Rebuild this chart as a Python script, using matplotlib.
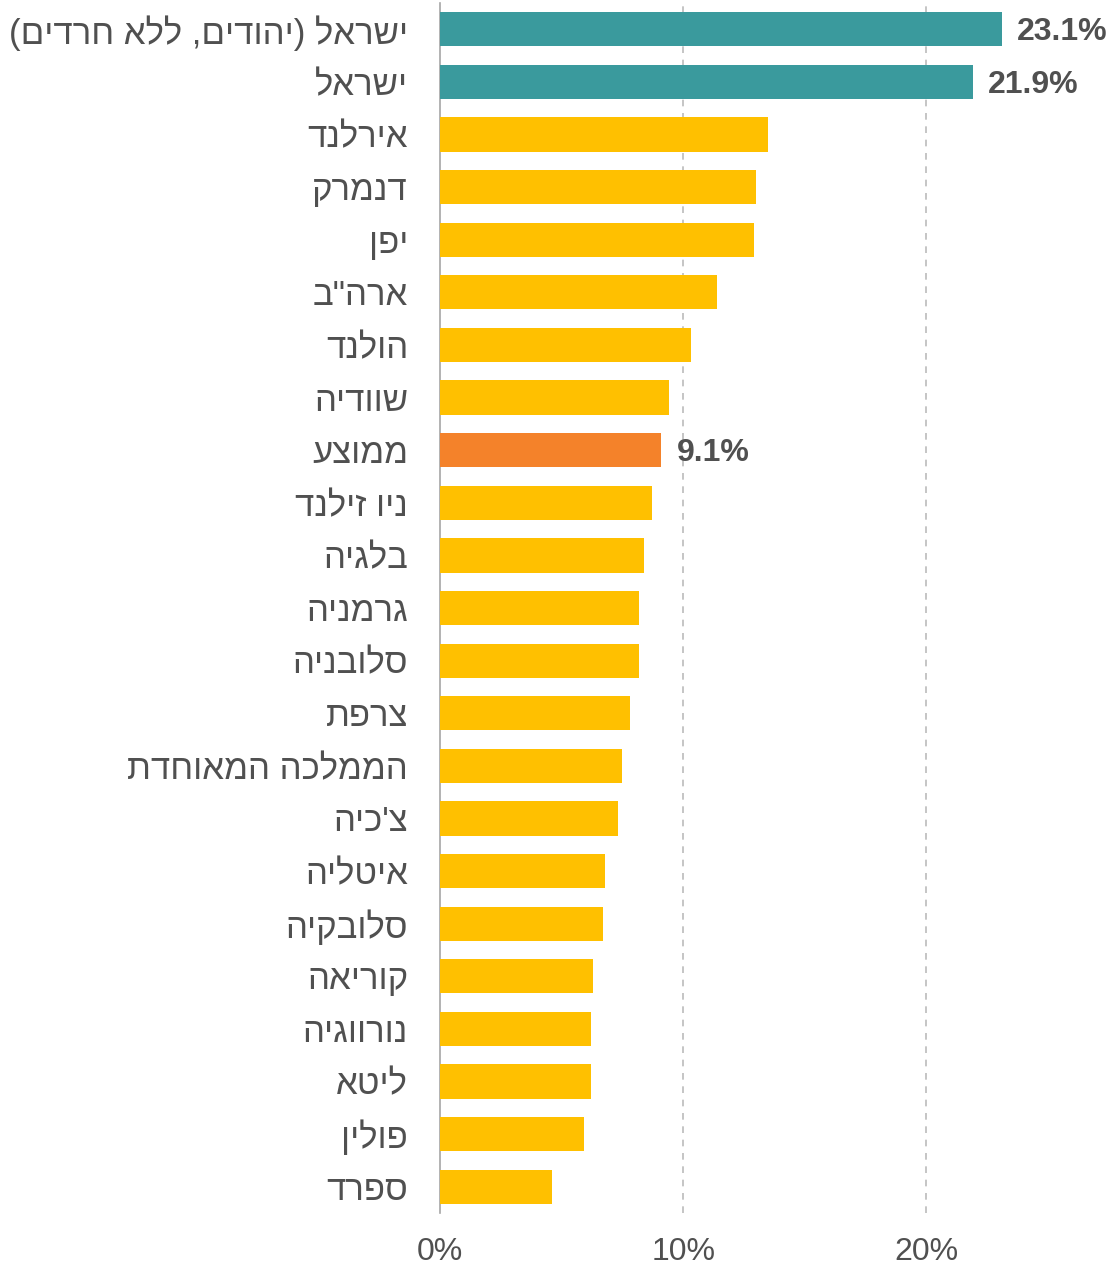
import matplotlib.pyplot as plt

plt.rcParams['font.family'] = ['Liberation Sans', 'DejaVu Sans']

# category names (logical order, top to bottom)
countries = [
    'ישראל (יהודים, ללא חרדים)', 'ישראל', 'אירלנד', 'דנמרק', 'יפן', 'ארה"ב',
    'הולנד', 'שוודיה', 'ממוצע', 'ניו זילנד', 'בלגיה', 'גרמניה', 'סלובניה',
    'צרפת', 'הממלכה המאוחדת', "צ'כיה", 'איטליה', 'סלובקיה', 'קוריאה',
    'נורווגיה', 'ליטא', 'פולין', 'ספרד',
]
values = [23.1, 21.9, 13.5, 13.0, 12.9, 11.4, 10.3, 9.4, 9.1, 8.7, 8.4, 8.2,
          8.2, 7.8, 7.5, 7.3, 6.8, 6.7, 6.3, 6.2, 6.2, 5.9, 4.6]
labelled = ['ישראל (יהודים, ללא חרדים)', 'ישראל', 'ממוצע']
xticks = [0, 10, 20]

TEAL = '#3A9A9D'
YELLOW = '#FFC000'
ORANGE = '#F4822A'
TEXT = '#505050'


def visual(s):
    # matplotlib has no bidi support: lay the Hebrew out in visual order
    r = s[::-1]
    return r.translate(str.maketrans('()', ')('))


colors = []
for c in countries:
    if c.startswith('ישראל'):
        colors.append(TEAL)
    elif c == 'ממוצע':
        colors.append(ORANGE)
    else:
        colors.append(YELLOW)

fig = plt.figure(figsize=(11.09, 12.65), dpi=100)
ax = fig.add_axes([0.3968, 0.0411, 0.5482, 0.9565])

ypos = list(range(len(countries)))
ax.barh(ypos, values, height=0.65, color=colors, zorder=3)

for y, c, v in zip(ypos, countries, values):
    if c in labelled:
        ax.text(v + 0.62, y + 0.05, f'{v:.1f}%', va='center', ha='left', fontsize=23,
                fontweight='bold', color=TEXT, clip_on=False)

ax.set_ylim(len(countries) - 0.5, -0.5)
ax.set_xlim(0, 25)
ax.set_yticks(ypos)
ax.set_yticklabels([visual(c) for c in countries], fontsize=25, color=TEXT)
ax.set_xticks(xticks)
ax.set_xticklabels([f'{t}%' for t in xticks], fontsize=23, color=TEXT)
ax.tick_params(axis='y', length=0, pad=23)
ax.tick_params(axis='x', length=0, pad=17)

for s in ['top', 'right', 'bottom']:
    ax.spines[s].set_visible(False)
ax.spines['left'].set_color('#A6A6A6')
ax.spines['left'].set_linewidth(1.2)

for t in xticks[1:]:
    ax.axvline(t, color='#BBBBBB', linestyle=(0, (4, 4)), linewidth=1.2, zorder=1)

fig.savefig('out.png', dpi=100)
